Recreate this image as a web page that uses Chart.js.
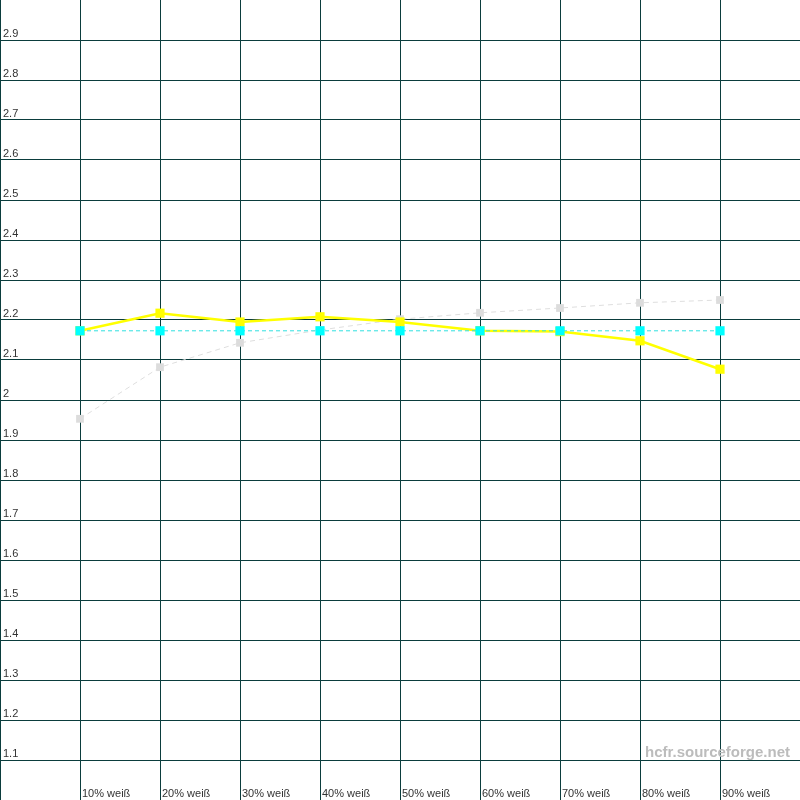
<!DOCTYPE html>
<html>
<head>
<meta charset="utf-8">
<script src="https://cdn.jsdelivr.net/npm/chart.js@4/dist/chart.umd.min.js"></script>
<style>
  html, body { margin: 0; padding: 0; background: #ffffff; }
  #wrap { width: 800px; height: 800px; position: relative; }
</style>
</head>
<body>
<div id="wrap"><canvas id="chart"></canvas></div>
<script>
// grey-level steps (x positions in % white)
const levels = [10, 20, 30, 40, 50, 60, 70, 80, 90];
const levelLabels = ['10% weiß', '20% weiß', '30% weiß', '40% weiß', '50% weiß',
                     '60% weiß', '70% weiß', '80% weiß', '90% weiß'];

// measured gamma
const gammaMeasured = [2.173, 2.217, 2.195, 2.208, 2.195, 2.173, 2.171, 2.148, 2.077];
// average / target gamma (flat)
const gammaAverage = [2.173, 2.173, 2.173, 2.173, 2.173, 2.173, 2.173, 2.173, 2.173];
// reference curve (light grey)
const gammaReference = [1.953, 2.082, 2.143, 2.175, 2.202, 2.218, 2.230, 2.243, 2.250];

const yTicks = ['1.1', '1.2', '1.3', '1.4', '1.5', '1.6', '1.7', '1.8', '1.9', '2',
                '2.1', '2.2', '2.3', '2.4', '2.5', '2.6', '2.7', '2.8', '2.9'];

const GRID = '#0b3d3d';
const LABEL_FONT = '11px "Liberation Sans", Arial, sans-serif';

const toPoints = (vals) => vals.map((v, i) => ({ x: levels[i], y: v }));

// draw axis labels inside the plot, above/right of their grid lines
const insideLabels = {
  id: 'insideLabels',
  afterDraw(chart) {
    const { ctx, scales } = chart;
    ctx.save();
    ctx.font = LABEL_FONT;
    ctx.fillStyle = '#333333';
    ctx.textAlign = 'left';
    ctx.textBaseline = 'alphabetic';
    yTicks.forEach(t => {
      const y = scales.y.getPixelForValue(parseFloat(t));
      ctx.fillText(t, 3, y - 3);
    });
    levelLabels.forEach((t, i) => {
      const x = scales.x.getPixelForValue(levels[i]);
      ctx.fillText(t, x + 2, 797);
    });
    // watermark
    ctx.font = 'bold 15px "Liberation Sans", Arial, sans-serif';
    ctx.fillStyle = '#bcbcbc';
    ctx.textAlign = 'right';
    ctx.fillText('hcfr.sourceforge.net', 790, 757);
    ctx.restore();
  }
};

new Chart(document.getElementById('chart'), {
  type: 'line',
  data: {
    datasets: [
      {
        label: 'Average',
        data: toPoints(gammaAverage),
        borderColor: '#30e0e0',
        borderWidth: 1,
        borderDash: [4, 3],
        pointStyle: 'rect',
        pointRadius: 6.5,
        pointBackgroundColor: '#00ffff',
        pointBorderWidth: 0,
        tension: 0,
      },
      {
        label: 'Measured',
        data: toPoints(gammaMeasured),
        borderColor: '#ffff00',
        borderWidth: 2.5,
        pointStyle: 'rect',
        pointRadius: 6.5,
        pointBackgroundColor: '#ffff00',
        pointBorderWidth: 0,
        tension: 0,
      },
      {
        label: 'Reference',
        data: toPoints(gammaReference),
        borderColor: '#dedede',
        borderWidth: 1,
        borderDash: [5, 4],
        pointStyle: 'rect',
        pointRadius: 5.5,
        pointBackgroundColor: '#dcdcdc',
        pointBorderWidth: 0,
        tension: 0,
      },
    ],
  },
  options: {
    responsive: true,
    maintainAspectRatio: false,
    animation: false,
    layout: { padding: 0, autoPadding: false },
    plugins: {
      legend: { display: false },
      tooltip: { enabled: false },
      title: { display: false },
    },
    scales: {
      x: {
        type: 'linear',
        min: 0,
        max: 100,
        ticks: { display: false, stepSize: 10 },
        border: { display: false },
        grid: {
          drawTicks: false,
          lineWidth: 1,
          color: (c) => (c.tick && c.tick.value >= 100 ? 'rgba(0,0,0,0)' : GRID),
        },
      },
      y: {
        min: 1.0,
        max: 3.0,
        ticks: { display: false, stepSize: 0.1 },
        border: { display: false },
        grid: {
          drawTicks: false,
          lineWidth: 1,
          color: (c) => {
            const v = c.tick ? Math.round(c.tick.value * 10) / 10 : 0;
            return (v <= 1.0 || v >= 3.0) ? 'rgba(0,0,0,0)' : GRID;
          },
        },
      },
    },
  },
  plugins: [insideLabels],
});
</script>
</body>
</html>
